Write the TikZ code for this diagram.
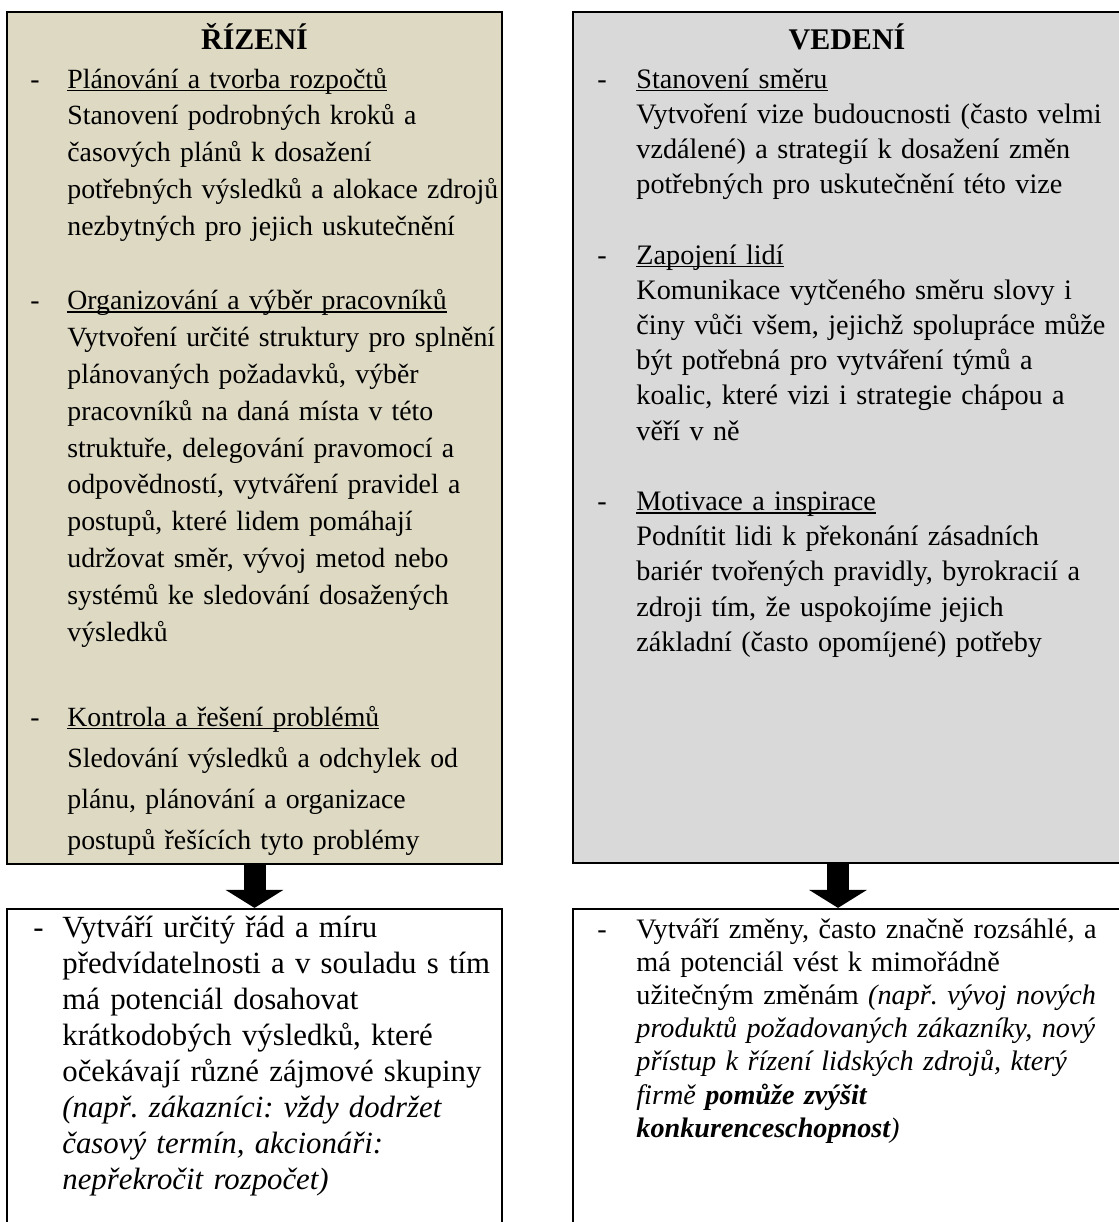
\documentclass[tikz,border=0pt]{standalone}
\usepackage{fontspec}
\setmainfont{Liberation Serif}
\usetikzlibrary{fit,arrows.meta}

\definecolor{panelTan}{HTML}{DDD9C3}
\definecolor{panelGrey}{HTML}{D9D9D9}

% underlined item heading with a thin rule just below the baseline
\newsavebox\subheadbox
\newcommand\subhead[1]{\sbox\subheadbox{#1}\rlap{\rule[-1.7pt]{\wd\subheadbox}{0.8pt}}\usebox\subheadbox}
% list dash hanging to the left of the text column
\newcommand\itemdash[1]{\llap{\makebox[#1][l]{-}}}

\begin{document}
\frenchspacing
\begin{tikzpicture}[x=0.5pt, y=-0.5pt,
  panel/.style={draw=black, line width=1.1pt, inner sep=0pt},
  title/.style={anchor=base, inner sep=0pt, font=\bfseries\fontsize{15pt}{18pt}\selectfont},
  body/.style={anchor=base west, inner sep=0pt, text width=300pt, align=left},
  leftbody/.style={body, font=\fontsize{13.9pt}{18.45pt}\selectfont},
  rightbody/.style={body, font=\fontsize{14.1pt}{17.6pt}\selectfont},
  outleft/.style={body, font=\fontsize{15.4pt}{18pt}\selectfont},
  outright/.style={body, font=\fontsize{14.1pt}{16.6pt}\selectfont},
  flow/.style={line width=11pt, line cap=butt, -{Triangle[width=28.5pt,length=9pt]}}
]
\useasboundingbox (0,0) rectangle (1119,1222);

% panels
\node[panel, fill=panelTan,  fit={(7,12) (502,864)}]      (rizeni)    {};
\node[panel, fill=panelGrey, fit={(573,12) (1130,863)}]   (vedeni)    {};
\node[panel, fill=white,     fit={(7,909) (502,1240)}]    (rizeniOut) {};
\node[panel, fill=white,     fit={(573,909) (1130,1240)}] (vedeniOut) {};

% left panel: management
\node[title] (rizeniTitle) at (254.5,49) {ŘÍZENÍ};
\node[leftbody] (rizeniA) at (67,88) {\itemdash{18.5pt}\subhead{Plánování a tvorba rozpočtů}\\
Stanovení podrobných kroků a\\
časových plánů k dosažení\\
potřebných výsledků a alokace zdrojů\\
nezbytných pro jejich uskutečnění};
\node[leftbody] (rizeniB) at (67,309.4) {\itemdash{18.5pt}\subhead{Organizování a výběr pracovníků}\\
Vytvoření určité struktury pro splnění\\
plánovaných požadavků, výběr\\
pracovníků na daná místa v této\\
struktuře, delegování pravomocí a\\
odpovědností, vytváření pravidel a\\
postupů, které lidem pomáhají\\
udržovat směr, vývoj metod nebo\\
systémů ke sledování dosažených\\
výsledků};
% the last paragraph runs down to the panel edge and is cut just below its baseline
\begin{scope}
\clip (7,12) rectangle (502,854);
\node[leftbody, font=\fontsize{13.9pt}{20.6pt}\selectfont] (rizeniC) at (67,726) {\itemdash{18.5pt}\subhead{Kontrola a řešení problémů}\\
\makebox[212pt][s]{Sledování výsledků a odchylek od}\\
\makebox[212pt][s]{plánu, plánování a organizace}\\
postupů řešících tyto problémy};
\end{scope}

% right panel: leadership
\node[title] (vedeniTitle) at (847,49) {VEDENÍ};
\node[rightbody] (vedeniA) at (636,88) {\itemdash{19.5pt}\subhead{Stanovení směru}\\
Vytvoření vize budoucnosti (často velmi\\
vzdálené) a strategií k dosažení změn\\
potřebných pro uskutečnění této vize};
\node[rightbody] (vedeniB) at (636,264) {\itemdash{19.5pt}\subhead{Zapojení lidí}\\
Komunikace vytčeného směru slovy i\\
činy vůči všem, jejichž spolupráce může\\
být potřebná pro vytváření týmů a\\
koalic, které vizi i strategie chápou a\\
věří v ně};
\node[rightbody] (vedeniC) at (636,510.4) {\itemdash{19.5pt}\subhead{Motivace a inspirace}\\
Podnítit lidi k překonání zásadních\\
bariér tvořených pravidly, byrokracií a\\
zdroji tím, že uspokojíme jejich\\
základní (často opomíjené) potřeby};

% outcomes
\node[outleft] (rizeniResult) at (62,937) {\itemdash{14.5pt}Vytváří určitý řád a míru\\
předvídatelnosti a v souladu s tím\\
má potenciál dosahovat\\
krátkodobých výsledků, které\\
očekávají různé zájmové skupiny\\
\textit{(např. zákazníci: vždy dodržet\\
časový termín, akcionáři:\\
nepřekročit rozpočet)}};
\node[outright] (vedeniResult) at (636,938) {\itemdash{19.5pt}Vytváří změny, často značně rozsáhlé, a\\
má potenciál vést k mimořádně\\
užitečným změnám \textit{(např. vývoj nových\\
produktů požadovaných zákazníky, nový\\
přístup k řízení lidských zdrojů, který\\
firmě \textbf{pomůže zvýšit\\
konkurenceschopnost})}};

% block arrows from each panel to its outcome
\coordinate (vedeniAxis) at (838,0);
\draw[flow] (rizeni.south) -- (rizeniOut.north);
\draw[flow] (vedeni.south -| vedeniAxis) -- (vedeniOut.north -| vedeniAxis);
\end{tikzpicture}
\end{document}
